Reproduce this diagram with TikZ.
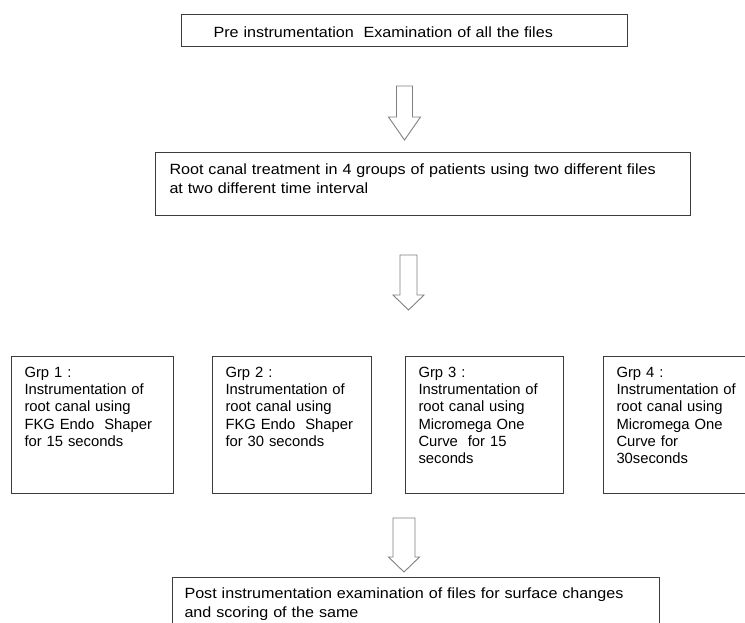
\documentclass[tikz,border=0pt]{standalone}
\usepackage{fontspec}
\setmainfont{Liberation Sans}
\newfontfamily\widefont[FakeStretch=1.09]{Liberation Sans}
\usetikzlibrary{calc}

\definecolor{boxline}{HTML}{3C3C3C}
\definecolor{arrowline}{HTML}{808080}

% hollow block arrow: top, tip, stem half width, head half width, head length
\newcommand{\hollowarrow}[5]{%
  \draw[blockarrow] let \p1=(#1), \p2=(#2) in
    (\x1-#3,\y1) -- (\x1-#3,\y2+#5) -- (\x1-#4,\y2+#5) -- (\x1,\y2)
    -- (\x1+#4,\y2+#5) -- (\x1+#3,\y2+#5) -- (\x1+#3,\y1) -- cycle;}

\begin{document}
\begin{tikzpicture}[x=1pt,y=-1pt]
    \tikzstyle{flowbox}=[draw=boxline,line width=1pt,anchor=north west,inner xsep=12pt,inner ysep=0pt,align=left,font=\widefont\fontsize{14.8}{19}\selectfont]
    \tikzstyle{grpbox}=[flowbox,inner xsep=13pt,font=\normalfont\fontsize{14.8}{17.2}\selectfont,text height=21pt,text depth=116pt]
    \tikzstyle{blockarrow}=[draw=arrowline,line width=0.9pt,fill=white]
    \useasboundingbox (0,0) rectangle (745,622);

    \node[flowbox,text width=422pt,text height=23.3pt,text depth=8.7pt] (pre) at (181,14)
        {\hspace*{20pt}Pre instrumentation~ Examination of all the files};
    \node[flowbox,inner xsep=14pt,text width=507pt,text height=22pt,text depth=41pt,
          font=\widefont\fontsize{14.8}{18.5}\selectfont] (root) at (155,152)
        {Root canal treatment in 4 groups of patients using two different files\\at two different time interval};

    \foreach \num/\x/\w/\txt in {1/11/136pt/{Grp 1 :\\Instrumentation of\\root canal using\\FKG Endo~ Shaper\\for 15 seconds},
                                 2/212/133pt/{Grp 2 :\\Instrumentation of\\root canal using\\FKG Endo~ Shaper\\for 30 seconds},
                                 3/405/132pt/{Grp 3 :\\Instrumentation of\\root canal using\\Micromega One\\Curve~ for 15\\seconds},
                                 4/603/132pt/{Grp 4 :\\Instrumentation of\\root canal using\\Micromega One\\Curve for\\30seconds}}
        \node[grpbox,text width=\w] (grp-\num) at (\x,356) {\txt};

    \node[flowbox,text width=463pt,text height=20.5pt,text depth=40pt,
          font=\widefont\fontsize{14.8}{19.4}\selectfont] (post) at (172,577)
        {Post instrumentation examination of files for surface changes\\and scoring of the same};

    % arrows between the stages
    \coordinate (a1-top) at ($(pre.south)+(0,39)$);
    \coordinate (a1-tip) at ($(root.north)+(0,-12)$);
    \coordinate (a2-top) at ($(root.south)+(-14.5,39)$);
    \coordinate (a2-tip) at ($(grp-3.north west)+(0,-46)$);
    \coordinate (a3-top) at ($(grp-2.south east)+(32,24)$);
    \coordinate (a3-tip) at ($(post.north)+(0,-5)$);

    \hollowarrow{a1-top}{a1-tip}{8pt}{16pt}{23pt}
    \hollowarrow{a2-top}{a2-tip}{8.5pt}{15.5pt}{15pt}
    \hollowarrow{a3-top}{a3-tip}{11pt}{15.5pt}{15pt}
\end{tikzpicture}
\end{document}
